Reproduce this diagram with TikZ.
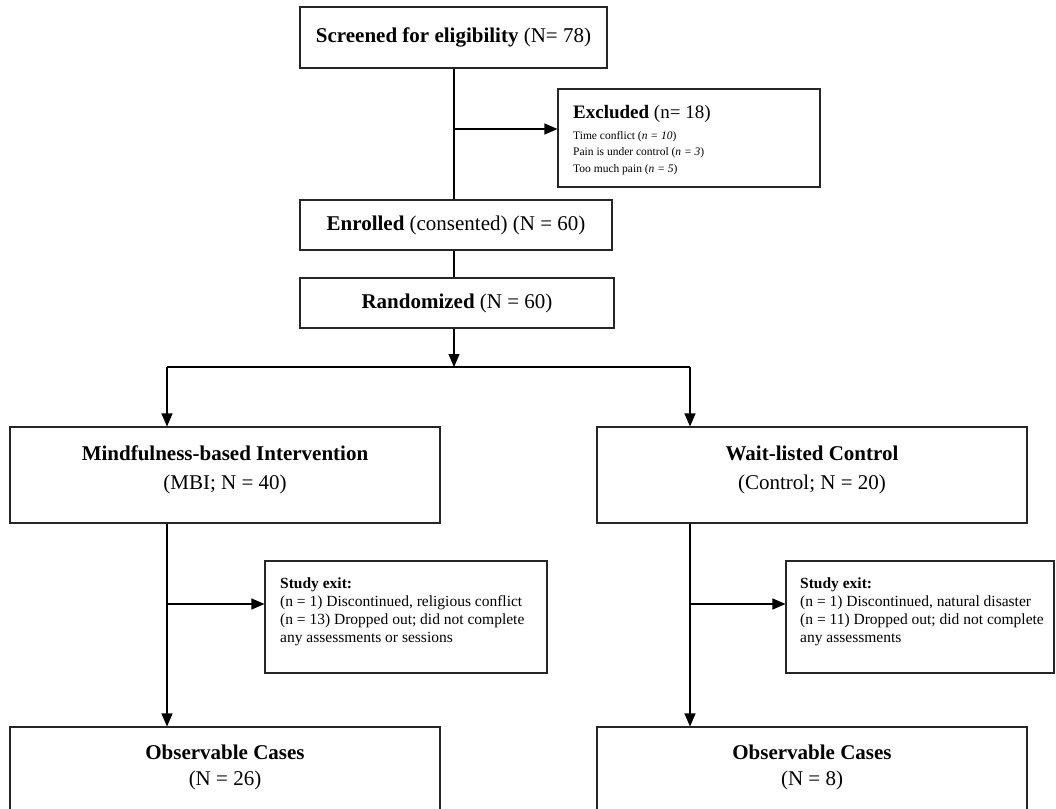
\documentclass[tikz,border=0pt]{standalone}
\usepackage{fontspec}
\setmainfont{Liberation Serif}
\usetikzlibrary{arrows.meta}
\begin{document}
\begin{tikzpicture}[x=1pt,y=-1pt,
  box/.style={draw=black!85,line width=1.1pt,inner sep=0pt,minimum width=#1},
  big/.style={font=\fontsize{21}{25}\selectfont,inner sep=0pt},
  mid/.style={font=\fontsize{15.5}{18}\selectfont,inner sep=0pt,align=left},
  small/.style={font=\fontsize{11.5}{16.5}\selectfont,inner sep=0pt,align=left},
  conn/.style={line width=1.1pt},
  arr/.style={line width=1.1pt,-{Triangle[length=13pt,width=11pt]}}]
\useasboundingbox (0,0) rectangle (1056,808);
\clip (0,0) rectangle (1056,808);
% boxes
\node[box=307pt,minimum height=61pt] (screen) at (453.5,37.5) {};
\node[box=262pt,minimum height=98pt] (excl) at (689,138) {};
\node[box=312pt,minimum height=50pt] (enroll) at (456,225) {};
\node[box=314pt,minimum height=50pt] (rand) at (457,303) {};
\node[box=430pt,minimum height=96pt] (mbi) at (225,475) {};
\node[box=430pt,minimum height=96pt] (ctrl) at (812,475) {};
\node[box=282pt,minimum height=112pt] (exitA) at (406,617) {};
\node[box=268pt,minimum height=112pt] (exitB) at (920,617) {};
\node[box=430pt,minimum height=110pt] (obsA) at (225,782) {};
\node[box=430pt,minimum height=110pt] (obsB) at (812,782) {};
% texts
\node[big] (tscreen) at (screen.center) {\textbf{Screened for eligibility} (N= 78)};
\node[small,anchor=north west] (texcl) at (573,105)
 {{\fontsize{19}{20}\selectfont\textbf{Excluded} (n= 18)}\\[4.5pt]
  Time conflict (\textit{n = 10})\\
  Pain is under control (\textit{n = 3})\\
  Too much pain (\textit{n = 5})};
\node[big] (tenroll) at (enroll.center) {\textbf{Enrolled} (consented) (N = 60)};
\node[big] (trand) at (rand.center) {\textbf{Randomized} (N = 60)};
\node[big] (tmbi1) at (225,453) {\textbf{Mindfulness-based Intervention}};
\node[big] (tmbi2) at (225,484) {(MBI; N = 40)};
\node[big] (tctrl1) at (812,453) {\textbf{Wait-listed Control}};
\node[big] (tctrl2) at (812,484) {(Control; N = 20)};
\node[mid,anchor=north west] (texA) at (280,578)
 {\textbf{Study exit:}\\(n = 1) Discontinued, religious conflict\\(n = 13) Dropped out; did not complete\\any assessments or sessions};
\node[mid,anchor=north west] (texB) at (800,578)
 {\textbf{Study exit:}\\(n = 1) Discontinued, natural disaster\\(n = 11) Dropped out; did not complete\\any assessments};
\node[big] (tobsA1) at (225,752) {\textbf{Observable Cases}};
\node[big] (tobsA2) at (225,780) {(N = 26)};
\node[big] (tobsB1) at (812,752) {\textbf{Observable Cases}};
\node[big] (tobsB2) at (812,780) {(N = 8)};
% connectors
\coordinate (jx) at (454,129);
\coordinate (sp) at (454,367);
\coordinate (spL) at (167,367);
\coordinate (spR) at (690,367);
\coordinate (jA) at (167,604);
\coordinate (jB) at (690,604);
\draw[conn] (jx |- screen.south) -- (jx |- enroll.north);
\draw[arr] (jx) -- (jx -| excl.west);
\draw[conn] (jx |- enroll.south) -- (jx |- rand.north);
\draw[arr] (sp |- rand.south) -- (sp);
\draw[conn] (spL) -- (spR);
\draw[arr] (spL) -- (spL |- mbi.north);
\draw[arr] (spR) -- (spR |- ctrl.north);
\draw[arr] (jA |- mbi.south) -- (jA |- obsA.north);
\draw[arr] (jA) -- (jA -| exitA.west);
\draw[arr] (jB |- ctrl.south) -- (jB |- obsB.north);
\draw[arr] (jB) -- (jB -| exitB.west);
\end{tikzpicture}
\end{document}
